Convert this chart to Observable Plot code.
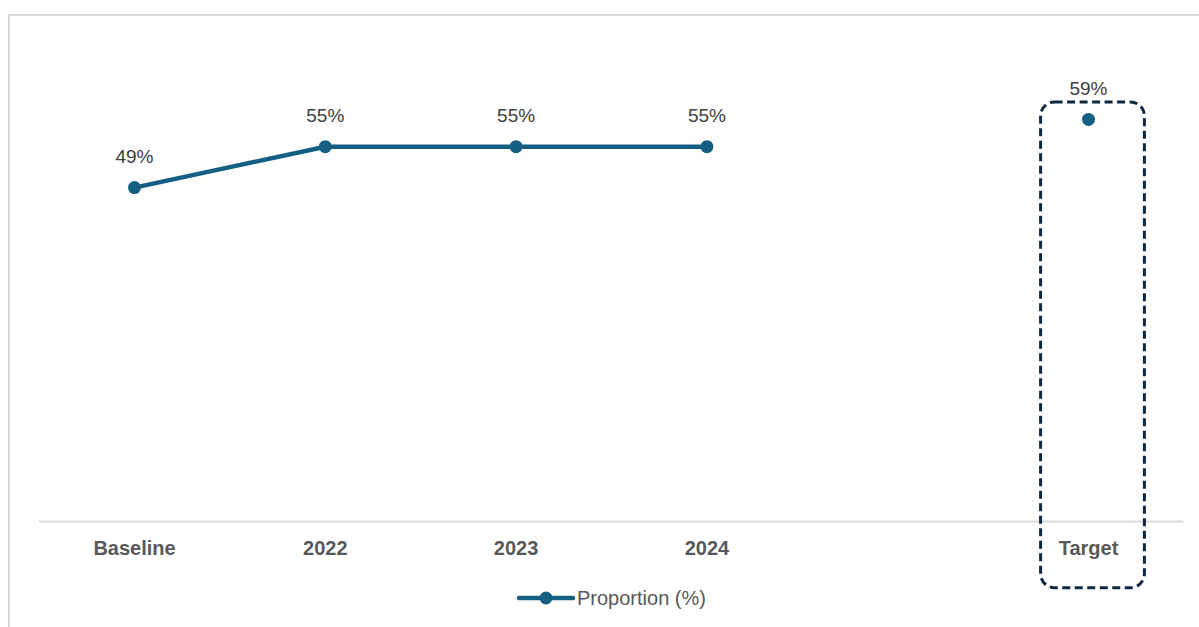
<!DOCTYPE html>
<html>
<head>
<meta charset="utf-8">
<script src="https://cdn.jsdelivr.net/npm/d3@7"></script>
<script src="https://cdn.jsdelivr.net/npm/@observablehq/plot@0.6"></script>
<style>
  html, body { margin: 0; padding: 0; background: #fff; }
  #wrap { position: relative; width: 1199px; height: 627px; overflow: hidden; font-family: "Liberation Sans", Arial, sans-serif; }
  #border { position: absolute; left: 8px; top: 14px; width: 1200px; height: 700px; border: 2px solid #d9d9d9; box-sizing: border-box; }
  #chart { position: absolute; left: 0; top: 0; }
  #legend { position: absolute; left: 515px; top: 586px; height: 24px; display: flex; align-items: center; font-size: 20px; color: #595959; }
  #legend svg { margin-right: 2px; }
</style>
</head>
<body>
<div id="wrap">
  <div id="border"></div>
  <div id="chart"></div>
  <div id="legend"></div>
</div>
<script>
// Data
const categories = ["Baseline", "2022", "2023", "2024", "gap", "Target"];
const seriesName = "Proportion (%)";
const actualCategories = ["Baseline", "2022", "2023", "2024"];
const actualValues = [0.49, 0.55, 0.55, 0.55];
const targetCategory = ["Target"];
const targetValue = [0.59];

const actual = actualCategories.map((c, i) => ({cat: c, value: actualValues[i]}));
const target = targetCategory.map((c, i) => ({cat: c, value: targetValue[i]}));

const blue = "#156082";
const dark = "#0e2841";

const chart = Plot.plot({
  width: 1199,
  height: 575,
  marginLeft: 38.6,
  marginRight: 15.6,
  marginTop: 44,
  marginBottom: 54,
  style: {fontFamily: "Liberation Sans, Arial, sans-serif", background: "transparent", overflow: "visible"},
  x: {type: "band", domain: categories, padding: 0, round: false, label: null},
  y: {domain: [0, 0.7], axis: null},
  marks: [
    Plot.ruleY([0], {stroke: "#d9d9d9", strokeWidth: 2}),
    Plot.axisX({
      tickSize: 0,
      tickPadding: 19,
      tickFormat: d => d === "gap" ? "" : d,
      fontSize: 20,
      fontWeight: "bold",
      fill: "#595959",
      label: null
    }),
    Plot.barY(target, {
      x: "cat",
      y1: -0.098,
      y2: 0.615,
      insetLeft: 48,
      insetRight: 39,
      rx: 14,
      fill: "none",
      stroke: dark,
      strokeWidth: 3,
      strokeDasharray: "8,4.5",
      clip: false
    }),
    Plot.line(actual, {x: "cat", y: "value", stroke: blue, strokeWidth: 4.5, strokeLinecap: "round"}),
    Plot.dot(actual, {x: "cat", y: "value", r: 6.5, fill: blue, stroke: "none"}),
    Plot.dot(target, {x: "cat", y: "value", r: 6.5, fill: blue, stroke: "none"}),
    Plot.text(actual.concat(target), {
      x: "cat", y: "value", dy: -31,
      text: d => Math.round(d.value * 100) + "%",
      fontSize: 19, fill: "#404040"
    })
  ]
});
document.getElementById("chart").appendChild(chart);

// Legend
const lg = d3.select("#legend");
const sw = lg.append("svg").attr("width", 60).attr("height", 16);
sw.append("line").attr("x1", 4).attr("x2", 58).attr("y1", 8).attr("y2", 8)
  .attr("stroke", blue).attr("stroke-width", 4.5).attr("stroke-linecap", "round");
sw.append("circle").attr("cx", 31).attr("cy", 8).attr("r", 6.5).attr("fill", blue);
lg.append("span").text(seriesName);
</script>
</body>
</html>
